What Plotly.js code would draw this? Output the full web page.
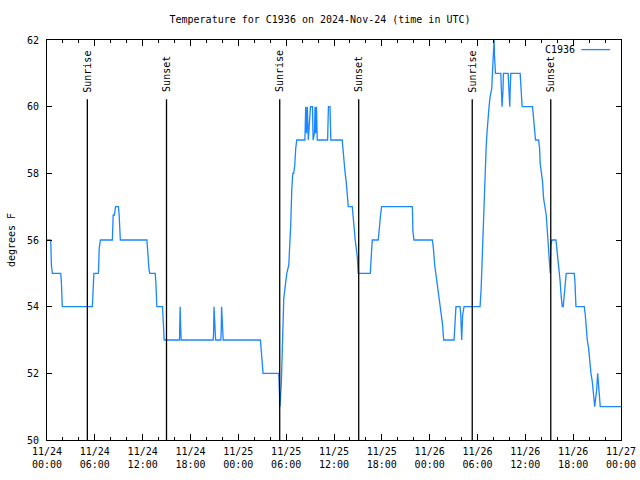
<!DOCTYPE html>
<html>
<head>
<meta charset="utf-8">
<script src="https://cdn.plot.ly/plotly-3.0.1.min.js"></script>
<style>html,body{margin:0;padding:0;background:#fff;}#chart{width:640px;height:480px;}</style>
</head>
<body>
<div id="chart"></div>
<script>
// Hours since 2024-11-24 00:00 UTC, and temperature (degrees F)
var hours = [
  0.00, 0.46, 0.50, 0.55, 0.67, 1.72, 1.80, 1.88, 1.92, 5.69, 5.75, 5.88, 6.45, 6.55, 6.70,
  8.20, 8.30, 8.45, 8.60, 8.70, 8.96, 9.05, 9.20, 12.53, 12.65, 12.80, 12.90, 13.57, 13.65, 13.72,
  13.78, 14.49, 14.60, 14.70, 16.62, 16.67, 16.70, 16.78, 16.83, 20.85, 20.90, 20.95, 21.10, 21.15,
  21.80, 21.85, 21.90, 22.05, 22.10, 26.77, 26.85, 26.95, 27.10, 29.07, 29.12, 29.22, 29.40, 29.55,
  29.70, 29.95, 30.08, 30.33, 30.45, 30.58, 30.70, 30.83, 30.95, 31.08, 31.20, 31.33, 32.35, 32.45,
  32.55, 32.65, 32.78, 33.05, 33.30, 33.38, 33.55, 33.62, 33.70, 33.80, 33.90, 35.20, 35.30, 35.50,
  35.60, 37.03, 37.12, 37.25, 37.40, 37.53, 37.66, 37.79, 38.29, 38.37, 38.49, 38.66, 38.79, 38.92,
  39.04, 40.55, 40.67, 40.80, 41.55, 41.68, 41.84, 41.97, 45.83, 45.90, 46.03, 48.34, 48.47, 48.63,
  48.76, 48.88, 49.05, 49.17, 49.30, 49.47, 49.60, 49.76, 51.06, 51.18, 51.30, 51.81, 51.90, 52.02,
  52.14, 52.31, 54.32, 54.45, 54.62, 54.82, 54.90, 54.98, 55.08, 55.20, 55.33, 55.45, 55.58, 55.79,
  55.88, 56.00, 56.08, 56.13, 56.25, 56.92, 57.00, 57.08, 57.20, 57.25, 57.84, 57.97, 58.05, 58.10,
  58.18, 59.35, 59.52, 59.60, 60.90, 60.99, 61.11, 61.28, 61.66, 61.79, 61.86, 62.04, 62.16, 62.29,
  62.46, 62.62, 62.75, 62.87, 63.00, 63.12, 63.20, 63.33, 63.84, 63.96, 64.12, 64.25, 64.37, 64.50,
  64.63, 64.75, 64.88, 65.00, 65.13, 66.14, 66.22, 66.35, 67.39, 67.52, 67.64, 67.77, 67.94, 68.07,
  68.23, 68.40, 68.57, 68.70, 68.82, 68.95, 69.07, 69.20, 69.32, 69.40, 72.00
];
var tempsF = [
  56, 56, 55.75, 55.25, 55, 55, 54.75, 54.25, 54, 54, 54.25, 55, 55, 55.75, 56,
  56, 56.75, 56.75, 57, 57, 57, 56.75, 56, 56, 55.4, 55.1, 55, 55, 54.75, 54.25,
  54, 54, 53.5, 53, 53, 53.3, 54, 53.3, 53, 53, 53.25, 54, 53.25, 53,
  53, 53.25, 54, 53.25, 53, 53, 52.7, 52.3, 52, 52, 51.75, 51, 51.75, 53.5,
  54.25, 54.75, 55, 55.25, 55.75, 56.5, 57.5, 58, 58, 58.25, 58.75, 59, 59, 60,
  59.2, 60, 59, 60, 60, 59, 59.2, 60, 59.2, 60, 59, 59, 60, 60,
  59, 59, 58.75, 58.25, 58, 57.75, 57.25, 57, 57, 56.75, 56.25, 56, 55.75, 55.5,
  55, 55, 55.5, 56, 56, 56.4, 56.75, 57, 57, 56.25, 56, 56, 55.75, 55.25,
  55, 54.75, 54.5, 54.25, 54, 53.75, 53.5, 53, 53, 53.5, 54, 54, 53.75, 53,
  53.75, 54, 54, 54.5, 55.75, 56.75, 57.75, 58.25, 58.75, 59.25, 59.75, 60, 60.3, 60.55,
  61.05, 61.55, 62, 61.55, 61, 61, 60.3, 60, 60.5, 61, 61, 60.2, 60, 60.5,
  61, 61, 60.3, 60, 60, 59.75, 59.25, 59, 59, 58.75, 58.3, 58, 57.75, 57.25,
  57, 56.75, 56.3, 55.8, 55.3, 55, 55.8, 56, 56, 55.75, 55.25, 55, 54.75, 54.3,
  54, 54, 54.3, 54.75, 55, 55, 54.75, 54, 54, 53.75, 53.25, 53, 52.75, 52.25,
  52, 51.75, 51.25, 51, 51.25, 51.5, 52, 51.5, 51.25, 51, 51
];
var sunEventHours = [5.06, 14.99, 29.19, 39.10, 53.34, 63.19];
var sunEventLabels = ["Sunrise", "Sunset", "Sunrise", "Sunset", "Sunrise", "Sunset"];
var seriesName = "C1936";
var chartTitle = "Temperature for C1936 on 2024-Nov-24 (time in UTC)";

var base = Date.UTC(2024, 10, 24, 0, 0, 0);
var HOUR = 3600000;
function toTime(h) { return base + h * HOUR; }

var FONT = {family: "DejaVu Sans Mono, Liberation Mono, monospace", size: 10, color: "#000"};
var LINE_BLUE = "#1a86ff";

var trace = {
  x: hours.map(toTime),
  y: tempsF,
  type: "scatter",
  mode: "lines",
  name: seriesName,
  line: {color: LINE_BLUE, width: 1.3},
  showlegend: false,
  hoverinfo: "skip"
};
// invisible helper trace carrying the second (time-of-day) label row
var helper = {
  x: [toTime(0), toTime(72)], y: [50, 50], xaxis: "x2", yaxis: "y",
  type: "scatter", mode: "none", showlegend: false, hoverinfo: "skip"
};

var shapes = [];
var annotations = [];
sunEventHours.forEach(function (h, i) {
  shapes.push({
    type: "line", xref: "x", yref: "paper",
    x0: toTime(h), x1: toTime(h), y0: 0, y1: 0.852,
    line: {color: "#000", width: 1.3}
  });
  annotations.push({
    xref: "x", yref: "paper", x: toTime(h), y: 0.864,
    text: sunEventLabels[i], textangle: -90,
    xanchor: "center", yanchor: "bottom", showarrow: false,
    font: FONT
  });
});
// legend (gnuplot style: text then sample)
annotations.push({
  xref: "paper", yref: "paper", x: 0.923, y: 0.976,
  text: seriesName, xanchor: "right", yanchor: "middle", showarrow: false, font: FONT
});
shapes.push({
  type: "line", xref: "paper", yref: "paper",
  x0: 0.931, x1: 0.981, y0: 0.976, y1: 0.976,
  line: {color: LINE_BLUE, width: 1.3}
});

var xRange = [toTime(0), toTime(72)];

var layout = {
  width: 640, height: 480,
  margin: {l: 47, r: 19, t: 40, b: 40},
  paper_bgcolor: "#fff", plot_bgcolor: "#fff",
  font: FONT,
  title: {text: chartTitle, font: FONT, x: 0.5, xanchor: "center", y: 0.96, yanchor: "middle", yref: "container"},
  xaxis: {
    type: "date",
    range: xRange,
    tick0: toTime(0), dtick: 6 * HOUR,
    tickformat: "%m/%d",
    ticks: "inside", ticklen: 6, tickcolor: "#000", tickwidth: 1,
    minor: {dtick: 2 * HOUR, tick0: toTime(0), ticks: "inside", ticklen: 3, tickcolor: "#000", showgrid: false},
    showline: true, linecolor: "#000", linewidth: 1, mirror: "ticks",
    showgrid: false, zeroline: false, automargin: false,
    ticklabelstandoff: 2,
    tickfont: FONT
  },
  xaxis2: {
    type: "date",
    range: xRange,
    overlaying: "x", side: "bottom", anchor: "y",
    tick0: toTime(0), dtick: 6 * HOUR,
    tickformat: "%H:%M",
    ticks: "", showline: false, showgrid: false, zeroline: false, automargin: false,
    ticklabelstandoff: 17,
    tickfont: FONT
  },
  yaxis: {
    range: [50, 62], dtick: 2, tick0: 50,
    ticks: "inside", ticklen: 5, tickcolor: "#000",
    showline: true, linecolor: "#000", linewidth: 1, mirror: "ticks",
    showgrid: false, zeroline: false, automargin: false,
    ticklabelstandoff: 5,
    tickfont: FONT,
    title: {text: "degrees F", font: FONT, standoff: 9}
  },
  shapes: shapes,
  annotations: annotations
};

Plotly.newPlot("chart", [trace, helper], layout, {displayModeBar: false, staticPlot: true});
</script>
</body>
</html>
